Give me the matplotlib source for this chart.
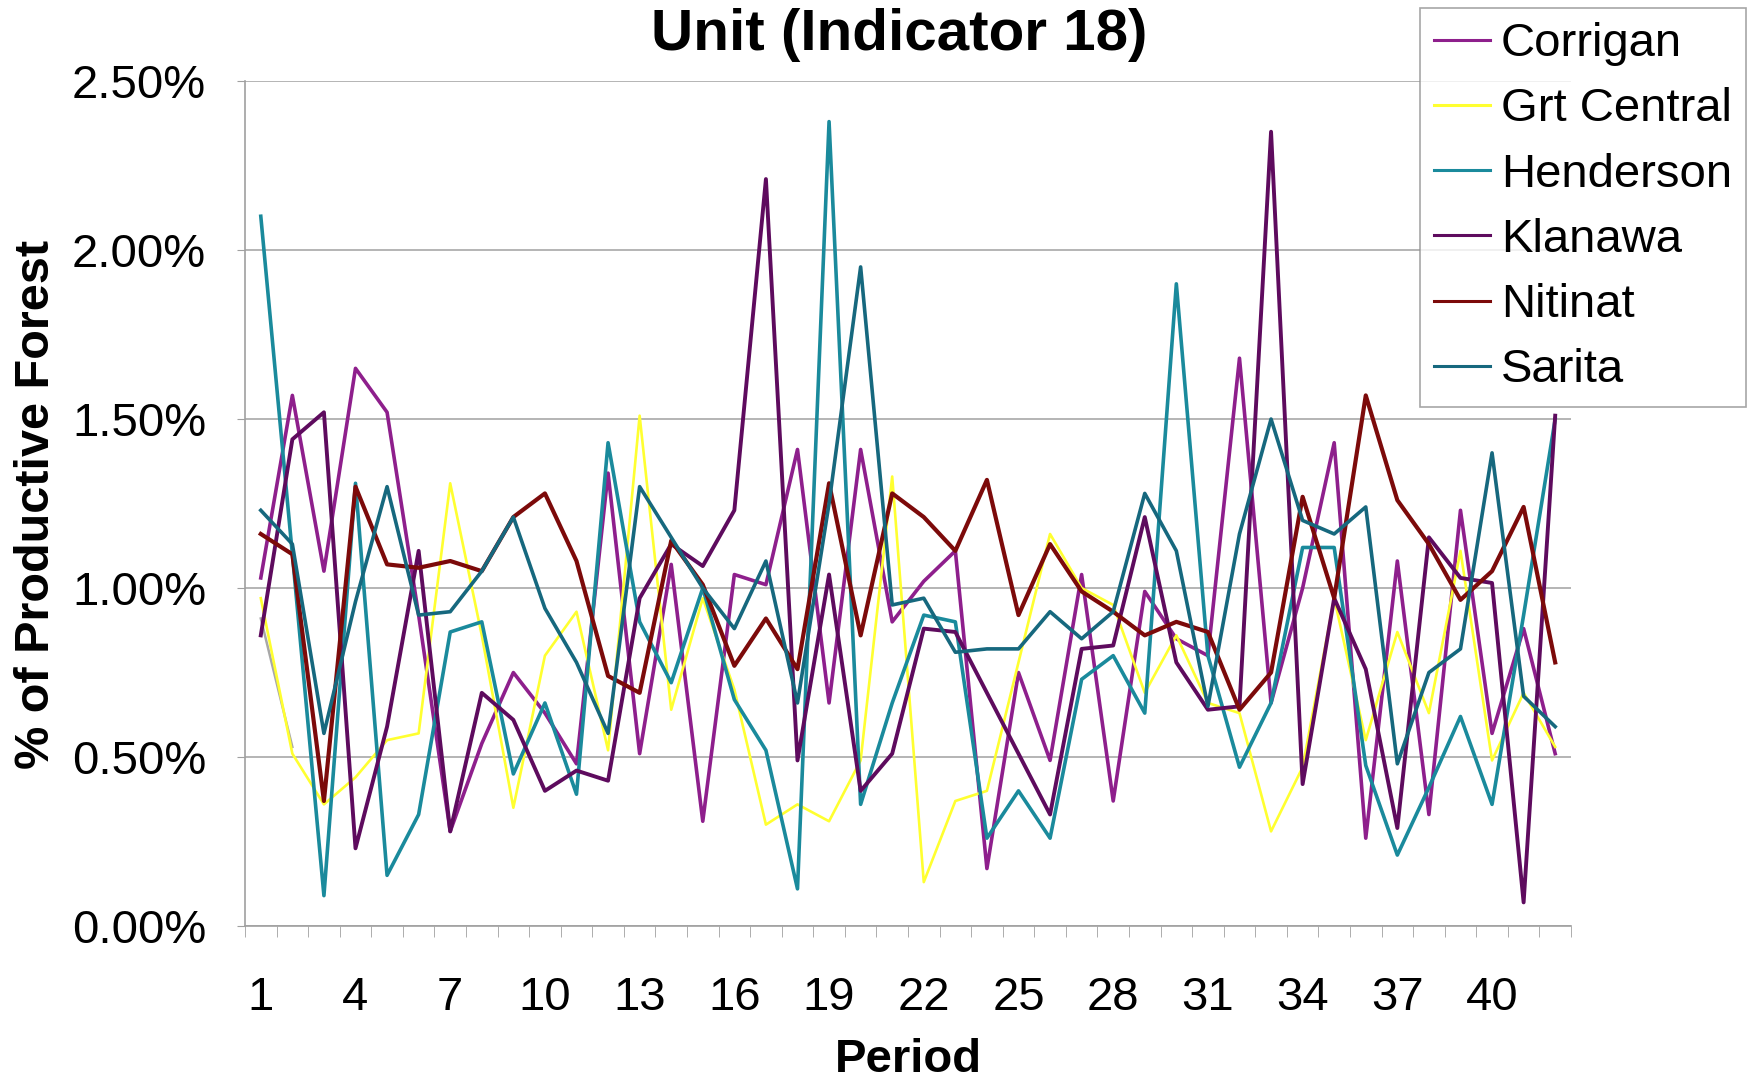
import numpy as np
import matplotlib.pyplot as plt
from matplotlib.ticker import FuncFormatter, MultipleLocator, FixedLocator

plt.rcParams['font.family'] = ['Liberation Sans', 'DejaVu Sans']

periods = list(range(1, 43))

# % of productive forest per period
corrigan = [1.03, 1.57, 1.05, 1.65, 1.52, 0.92, 0.28, 0.54, 0.75, 0.63,
            0.48, 1.34, 0.51, 1.07, 0.31, 1.04, 1.01, 1.41, 0.66, 1.41,
            0.90, 1.02, 1.11, 0.17, 0.75, 0.49, 1.04, 0.37, 0.99, 0.85,
            0.80, 1.68, 0.66, 1.00, 1.43, 0.26, 1.08, 0.33, 1.23, 0.57,
            0.88, 0.51]
grt_central = [0.97, 0.51, 0.36, 0.44, 0.55, 0.57, 1.31, 0.86, 0.35, 0.80,
               0.93, 0.52, 1.51, 0.64, 0.97, 0.70, 0.30, 0.36, 0.31, 0.49,
               1.33, 0.13, 0.37, 0.40, 0.78, 1.16, 1.00, 0.95, 0.69, 0.86,
               0.66, 0.63, 0.28, 0.47, 0.97, 0.55, 0.87, 0.63, 1.11, 0.49,
               0.69, 0.53]
henderson = [2.10, 1.10, 0.09, 1.31, 0.15, 0.33, 0.87, 0.90, 0.45, 0.66,
             0.39, 1.43, 0.90, 0.72, 1.00, 0.67, 0.52, 0.11, 2.38, 0.36,
             0.66, 0.92, 0.90, 0.26, 0.40, 0.26, 0.73, 0.80, 0.63, 1.90,
             0.80, 0.47, 0.66, 1.12, 1.12, 0.475, 0.21, 0.41, 0.62, 0.36,
             0.92, 1.50]
klanawa = [0.86, 1.44, 1.52, 0.23, 0.59, 1.11, 0.28, 0.69, 0.61, 0.40,
           0.46, 0.43, 0.97, 1.13, 1.065, 1.23, 2.21, 0.49, 1.04, 0.40,
           0.51, 0.88, 0.87, 0.69, 0.51, 0.33, 0.82, 0.83, 1.21, 0.78,
           0.64, 0.65, 2.35, 0.42, 0.97, 0.76, 0.29, 1.15, 1.03, 1.015,
           0.07, 1.51]
nitinat = [1.16, 1.10, 0.37, 1.30, 1.07, 1.06, 1.08, 1.05, 1.21, 1.28,
           1.08, 0.74, 0.69, 1.14, 1.01, 0.77, 0.91, 0.76, 1.31, 0.86,
           1.28, 1.21, 1.11, 1.32, 0.92, 1.13, 0.99, 0.93, 0.86, 0.90,
           0.87, 0.64, 0.75, 1.27, 0.97, 1.57, 1.26, 1.13, 0.965, 1.05,
           1.24, 0.78]
sarita = [1.23, 1.13, 0.57, 0.96, 1.30, 0.92, 0.93, 1.05, 1.21, 0.94,
          0.78, 0.57, 1.30, 1.15, 1.00, 0.88, 1.08, 0.66, 1.25, 1.95,
          0.95, 0.97, 0.81, 0.82, 0.82, 0.93, 0.85, 0.93, 1.28, 1.11,
          0.65, 1.16, 1.50, 1.20, 1.16, 1.24, 0.48, 0.75, 0.82, 1.40,
          0.68, 0.59]
# short grey stub at the start (no legend entry)
grey_stub = [0.91, 0.53] + [np.nan] * 40

series = [
    ("Corrigan", corrigan, "#8e1f8c", 2.6),
    ("Grt Central", grt_central, "#ffff30", 1.9),
    ("Henderson", henderson, "#1a8a9c", 2.6),
    ("Klanawa", klanawa, "#5e0b5e", 2.8),
    ("Nitinat", nitinat, "#7c0a0a", 3.0),
    ("Sarita", sarita, "#16687e", 2.6),
]

fig = plt.figure(figsize=(17.5, 10.85), dpi=100)
ax = fig.add_axes([0.140, 0.1465, 0.7577, 0.7788])

ax.plot(periods, grey_stub, color="#a8a8a8", lw=1.8)
handles = []
for name, vals, col, lw in series:
    h, = ax.plot(periods, vals, color=col, lw=lw, label=name)
    handles.append(h)

ax.set_xlim(0.5, 42.5)
ax.set_ylim(0, 2.5)

ax.yaxis.set_major_locator(MultipleLocator(0.5))
ax.yaxis.set_major_formatter(FuncFormatter(lambda v, p: f"{v:.2f}%"))
ax.grid(axis="y", color="#a8a8a8", lw=1.2)
ax.set_axisbelow(True)

ax.xaxis.set_major_locator(FixedLocator(list(range(1, 43, 3))))
ax.xaxis.set_minor_locator(FixedLocator(np.arange(0.5, 43, 1)))
ax.tick_params(axis="x", which="major", length=0, pad=36, labelsize=34)
ax.tick_params(axis="x", which="minor", length=8, color="#a0a0a0", direction="out")
ax.tick_params(axis="y", length=6, color="#a0a0a0", pad=22, labelsize=34)

for s in ["top", "right"]:
    ax.spines[s].set_visible(False)
for s in ["left", "bottom"]:
    ax.spines[s].set_color("#a0a0a0")
    ax.spines[s].set_linewidth(1.2)

# last line of the heading, sitting right at the top edge
fig.text(0.514, 0.9539, "Unit (Indicator 18)", ha="center", va="baseline",
         fontsize=42, fontweight="bold")
fig.text(0.519, 0.023, "Period", ha="center", va="center",
         fontsize=34, fontweight="bold")
fig.text(0.021, 0.535, "% of Productive Forest", ha="center", va="center",
         rotation=90, fontsize=35, fontweight="bold")

leg = fig.legend(handles=handles, loc="upper left", bbox_to_anchor=(0.8115, 0.9926),
                 fontsize=34, frameon=True, fancybox=False, handlelength=1.17,
                 handletextpad=0.24, labelspacing=0.45, borderpad=0.3,
                 borderaxespad=0)
leg.get_frame().set_edgecolor("#909090")
leg.get_frame().set_linewidth(1.2)
for line in leg.get_lines():
    line.set_linewidth(2.2)

fig.savefig("out.png", dpi=100)
